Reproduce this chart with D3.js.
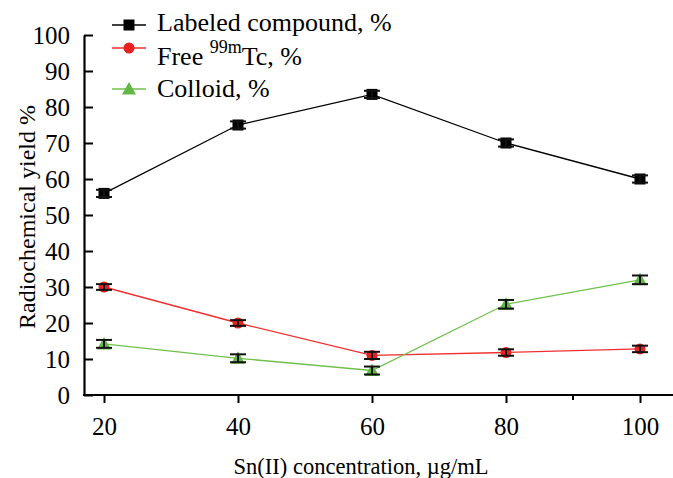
<!DOCTYPE html>
<html lang="en">
<head>
<meta charset="UTF-8">
<title>Radiochemical yield</title>
<script src="https://d3js.org/d3.v7.min.js"></script>
<style>
    * { margin: 0; padding: 0; }
    body { background: white; width: 673px; height: 478px; overflow: hidden; }
</style>
</head>
<body>
<svg id="chart" width="673" height="478" font-family="Liberation Serif"></svg>
<script>
const concentrations = [20, 40, 60, 80, 100];
const labeledValues = [56.0, 75.0, 83.5, 70.0, 60.0];
const labeledErrors = [1.0, 1.0, 1.0, 1.0, 1.0];
const freeValues = [30.0, 20.0, 11.0, 11.8, 12.8];
const freeErrors = [0.8, 0.8, 1.0, 0.9, 0.9];
const colloidValues = [14.2, 10.2, 6.8, 25.2, 32.0];
const colloidErrors = [1.1, 1.1, 1.1, 1.2, 1.2];
const yTicks = [0, 10, 20, 30, 40, 50, 60, 70, 80, 90, 100];
const xTicks = [20, 40, 60, 80, 100];
const xMinorTicks = [90];

const FONT = "Liberation Serif";

const series = [
    { name: "Labeled compound, %", values: labeledValues, errors: labeledErrors, color: "#000000", fill: "#000000", shape: "square" },
    { name: "Free", sup: "99m", tail: "Tc, %", values: freeValues, errors: freeErrors, color: "#f03030", fill: "#e82020", shape: "circle" },
    { name: "Colloid, %", values: colloidValues, errors: colloidErrors, color: "#70c04c", fill: "#62b845", shape: "triangle" }
];

const svg = d3.select("#chart");

// axes: y 0..100 maps 395..35, x 20..100 maps 104..640
const x = d3.scaleLinear().domain([20, 100]).range([104, 640]);
const y = d3.scaleLinear().domain([0, 100]).range([395, 35]);
const axisLeft = 84;

// y axis (ticks pointing inward)
const yAxis = svg.append("g").attr("transform", `translate(${axisLeft},0)`)
    .call(d3.axisLeft(y).tickValues(yTicks).tickSize(-9).tickPadding(14).tickSizeOuter(0));
yAxis.attr("font-family", FONT).attr("font-size", 25);
yAxis.select(".domain").attr("stroke-width", 2.2);
yAxis.selectAll(".tick line").attr("stroke-width", 2);
yAxis.selectAll(".tick text").attr("dy", "0.34em");

// x axis
const xAxisG = svg.append("g").attr("transform", "translate(0,395)");
xAxisG.append("line").attr("x1", axisLeft - 1).attr("x2", 673).attr("y1", 0).attr("y2", 0)
    .attr("stroke", "black").attr("stroke-width", 2.2);
xAxisG.call(d3.axisBottom(x).tickValues(xTicks).tickSize(8).tickPadding(14));
xAxisG.attr("font-family", FONT).attr("font-size", 25);
xAxisG.select(".domain").remove();
xAxisG.selectAll(".tick line").attr("stroke-width", 2);
xAxisG.selectAll(".tick text").attr("dy", "0.72em");
xAxisG.selectAll(".minor").data(xMinorTicks).join("line")
    .attr("class", "minor")
    .attr("x1", d => x(d)).attr("x2", d => x(d))
    .attr("y1", 0).attr("y2", 5)
    .attr("stroke", "black").attr("stroke-width", 2);

// axis titles
svg.append("text")
    .attr("transform", "translate(35,217) rotate(-90)")
    .attr("text-anchor", "middle")
    .attr("font-family", FONT)
    .attr("font-size", 24)
    .text("Radiochemical yield %");
svg.append("text")
    .attr("x", 361).attr("y", 474)
    .attr("text-anchor", "middle")
    .attr("font-family", FONT)
    .attr("font-size", 22.5)
    .text("Sn(II) concentration, \u00b5g/mL");

function drawMarker(g, shape, fill, cx, cy) {
    if (shape === "square") {
        g.append("rect").attr("x", cx - 5.5).attr("y", cy - 5.5).attr("width", 11).attr("height", 11).attr("fill", fill);
    } else if (shape === "circle") {
        g.append("circle").attr("cx", cx).attr("cy", cy).attr("r", 5.5).attr("fill", fill);
    } else {
        g.append("path")
            .attr("d", `M${cx},${cy - 7}L${cx + 7},${cy + 5.5}L${cx - 7},${cy + 5.5}Z`)
            .attr("fill", fill);
    }
}

const line = d3.line().x(d => x(d[0])).y(d => y(d[1]));

series.forEach(s => {
    const pts = concentrations.map((c, i) => [c, s.values[i], s.errors[i]]);
    const g = svg.append("g");
    g.append("path").datum(pts).attr("d", line)
        .attr("fill", "none").attr("stroke", s.color).attr("stroke-width", 1.3);
    pts.forEach(p => {
        const px = x(p[0]);
        drawMarker(g, s.shape, s.fill, px, y(p[1]));
        const eb = g.append("g").attr("stroke", "#111").attr("stroke-width", 2);
        eb.append("line").attr("x1", px).attr("x2", px).attr("y1", y(p[1] + p[2])).attr("y2", y(p[1] - p[2]));
        eb.append("line").attr("x1", px - 8).attr("x2", px + 8).attr("y1", y(p[1] + p[2])).attr("y2", y(p[1] + p[2]));
        eb.append("line").attr("x1", px - 8).attr("x2", px + 8).attr("y1", y(p[1] - p[2])).attr("y2", y(p[1] - p[2]));
    });
});

// legend
const legendRows = [25, 48, 89];
const textRows = [31, 65, 97];
series.forEach((s, i) => {
    const g = svg.append("g");
    g.append("line").attr("x1", 112).attr("x2", 146).attr("y1", legendRows[i]).attr("y2", legendRows[i])
        .attr("stroke", s.color).attr("stroke-width", 1.3);
    drawMarker(g, s.shape, s.fill, 129, legendRows[i]);
    const t = g.append("text").attr("x", 157).attr("y", textRows[i])
        .attr("font-family", FONT).attr("font-size", 26).text(s.name);
    if (s.sup) {
        t.append("tspan").text(" ");
        t.append("tspan").attr("font-size", 18).attr("dy", -12).text(s.sup);
        t.append("tspan").attr("dy", 12).text(s.tail);
    }
});
</script>
</body>
</html>
